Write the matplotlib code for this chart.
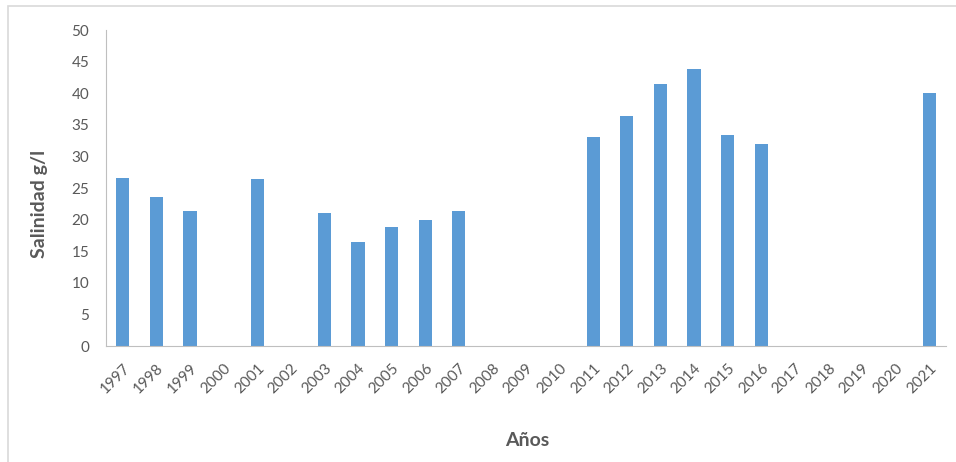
import matplotlib.pyplot as plt
from matplotlib.patches import Rectangle

anios = [str(a) for a in range(1997, 2022)]
salinidad = [26.6, 23.6, 21.3, 0, 26.5, 0, 21.1, 16.4, 18.9, 20.0, 21.3,
             0, 0, 0, 33.0, 36.4, 41.5, 43.9, 33.4, 31.9, 0, 0, 0, 0, 40.0]

plt.rcParams['font.family'] = ['Lato', 'DejaVu Sans']
gris = '#595959'

fig = plt.figure(figsize=(9.56, 4.62), dpi=100)
# marco del grafico
fig.patches.append(Rectangle((8 / 956, -0.1), 1.2, 1 - 6 / 462 + 0.1,
                             transform=fig.transFigure, fill=False,
                             edgecolor='#d9d9d9', linewidth=1.2))

ax = fig.add_axes([106 / 956, 1 - 346 / 462, 840 / 956, 316 / 462])
x = range(len(anios))
ax.bar(x, salinidad, width=0.39, color='#5b9bd5')

ax.set_xlim(-0.5, len(anios) - 0.5)
ax.set_ylim(0, 50)
ax.set_yticks(range(0, 51, 5))
ax.set_xticks(list(x))
ax.set_xticklabels(anios, rotation=45, ha='right', va='top',
                   rotation_mode='anchor', fontsize=11)
ax.tick_params(length=0, colors=gris)
ax.tick_params(axis='y', pad=12, labelsize=11)
ax.tick_params(axis='x', pad=11)

for s in ['top', 'right']:
    ax.spines[s].set_visible(False)
for s in ['left', 'bottom']:
    ax.spines[s].set_color('#bfbfbf')

fig.text(39 / 956, 1 - 204 / 462, 'Salinidad g/l', rotation=90, ha='center',
         va='center', fontsize=14, fontweight='bold', color=gris)
fig.text(527 / 956, 1 - 441 / 462, 'Años', ha='center', va='center',
         fontsize=14, fontweight='bold', color=gris)

plt.savefig('out.png', dpi=100)
